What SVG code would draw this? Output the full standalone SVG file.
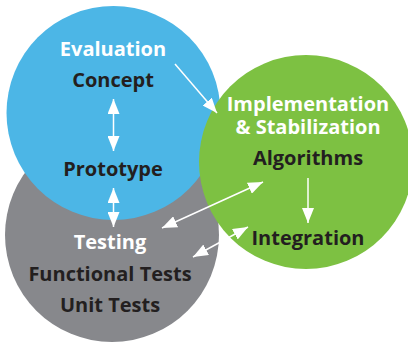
<svg xmlns="http://www.w3.org/2000/svg" width="408" height="343" viewBox="0 0 408 343">
<style>
text{font-family:"Open Sans","Liberation Sans",sans-serif;font-weight:bold;font-size:20px;text-anchor:middle}
.w{fill:#ffffff}
.d{fill:#231f20}
.c line{stroke:#ffffff;stroke-width:1.5}
</style>
<defs>
<marker id="ah" viewBox="0 0 15 12" refX="15" refY="6" markerWidth="15" markerHeight="12" markerUnits="userSpaceOnUse" orient="auto-start-reverse">
<path d="M0,0 L15,6 L0,12 z" fill="#ffffff"/>
</marker>
</defs>
<rect width="408" height="343" fill="#ffffff"/>
<g id="testing">
<circle cx="112" cy="235" r="107" fill="#87888c"/>
</g>
<g id="evaluation">
<circle cx="113.5" cy="113" r="107" fill="#4cb6e6"/>
</g>
<g id="implementation">
<circle cx="306" cy="162" r="107" fill="#7dc142"/>
</g>
<g id="labels">
<text class="w" x="113" y="56">Evaluation</text>
<text class="d" x="113" y="87">Concept</text>
<text class="d" x="113" y="176">Prototype</text>
<text class="w" x="110" y="249">Testing</text>
<text class="d" x="110" y="281">Functional Tests</text>
<text class="d" x="110" y="312">Unit Tests</text>
<text class="w" x="308" y="111">Implementation</text>
<text class="w" x="308" y="134">&amp; Stabilization</text>
<text class="d" x="308" y="165">Algorithms</text>
<text class="d" x="308" y="245">Integration</text>
</g>
<g id="connectors" class="c">
<line x1="113.5" y1="99" x2="113.5" y2="151" marker-start="url(#ah)" marker-end="url(#ah)"/>
<line x1="113.5" y1="188" x2="113.5" y2="227" marker-start="url(#ah)" marker-end="url(#ah)"/>
<line x1="175" y1="64" x2="217" y2="113" marker-end="url(#ah)"/>
<line x1="308" y1="178" x2="308" y2="223" marker-end="url(#ah)"/>
<line x1="162" y1="228" x2="263" y2="182" marker-start="url(#ah)" marker-end="url(#ah)"/>
<line x1="193" y1="257" x2="248" y2="227" marker-start="url(#ah)" marker-end="url(#ah)"/>
</g>
</svg>
